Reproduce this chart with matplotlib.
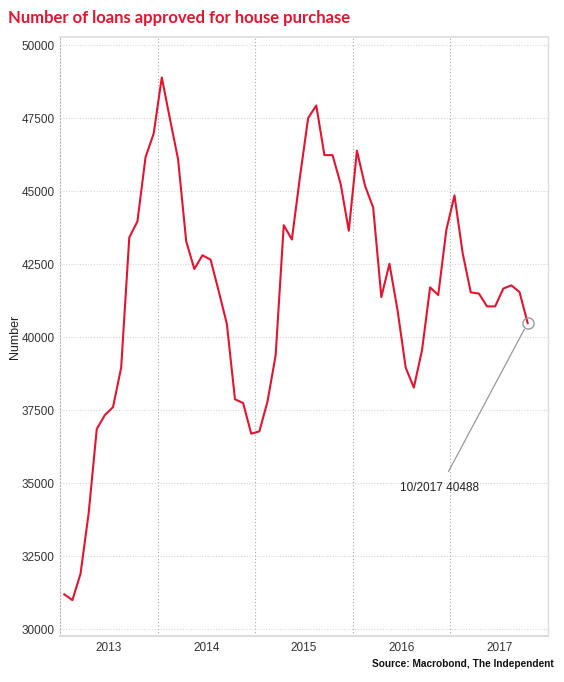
import numpy as np
import matplotlib
matplotlib.use("Agg")
import matplotlib.pyplot as plt

# monthly loans approved, Jan 2013 .. Oct 2017
loans = [31200, 31000, 31900, 33970, 36860, 37340, 37610, 38960, 43420, 43970, 46170, 46980,
         48900, 47480, 46100, 43290, 42340, 42810, 42660, 41580, 40460, 37880, 37750, 36700,
         36780, 37800, 39380, 43840, 43350, 45510, 47510, 47940, 46240, 46240, 45250, 43650,
         46390, 45190, 44440, 41380, 42520, 40920, 38960, 38280, 39550, 41710, 41450, 43680,
         44860, 42890, 41540, 41500, 41060, 41060, 41670, 41780, 41550, 40488]
years = ["2013", "2014", "2015", "2016", "2017"]
yticks = [30000, 32500, 35000, 37500, 40000, 42500, 45000, 47500, 50000]
note = "10/2017 40488"

red = "#e4142f"
plt.rcParams['font.family'] = ['Liberation Sans', 'DejaVu Sans']

fig = plt.figure(figsize=(5.64, 6.82), dpi=100)
ax = fig.add_axes([0.1067, 0.0674, 0.8649, 0.8783])

x = np.arange(len(loans)) + 0.5   # mid-month positions, 0 = Jan 2013
ax.plot(x, loans, color=red, lw=1.5, zorder=3)

ax.set_xlim(0, 60)
ax.set_ylim(29771, 50284)
ax.set_yticks(yticks)
ax.set_yticklabels([str(v) for v in yticks], fontsize=8.5, color="#333333")
ax.set_xticks([6 + 12 * i for i in range(len(years))])
ax.set_xticklabels(years, fontsize=8.5, color="#333333")
ax.tick_params(length=0, pad=4)

for v in yticks:
    ax.axhline(v, color="#d6d6d6", lw=0.8, ls=(0, (1, 1.5)), zorder=1)
for k in range(1, len(years)):
    ax.axvline(12 * k, color="#a8a8a8", lw=0.8, ls=(0, (1, 2)), zorder=1)

for s in ["top", "right", "bottom"]:
    ax.spines[s].set_color("#dcdcdc")
ax.spines["bottom"].set_linewidth(1.5)
ax.spines["top"].set_linewidth(1.2)
ax.spines["right"].set_linewidth(1.0)
ax.spines["left"].set_color("#b0b0b0")
ax.spines["left"].set_linestyle((0, (1, 2)))
ax.spines["left"].set_linewidth(0.8)

ax.set_ylabel("Number", fontsize=9, color="#222222")
ax.yaxis.set_label_coords(-0.08, 0.5)

# annotation of last value
ax.plot(x[-1], loans[-1], marker="o", ms=8, mfc="none", mec="#999999", mew=1.0, zorder=4)
ax.annotate(note, xy=(x[-1], loans[-1]), xytext=(46.7, 34850),
            fontsize=8.5, color="#222222", ha="center", va="center",
            arrowprops=dict(arrowstyle="-", color="#999999", lw=0.9,
                            shrinkA=6, shrinkB=5))

fig.text(0.014, 0.974, "Number of loans approved for house purchase", fontsize=12,
         fontweight="bold", color=red, family=["Lato", "DejaVu Sans"], va="center", ha="left")
fig.text(0.981, 0.026, "Source: Macrobond, The Independent", fontsize=7.3,
         fontweight="bold", color="#111111", ha="right", va="center")

fig.savefig("out.png", dpi=100)
